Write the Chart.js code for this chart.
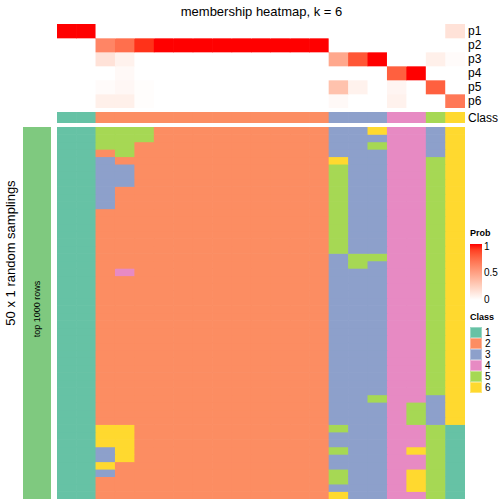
<!DOCTYPE html>
<html>
<head>
<meta charset="utf-8">
<script src="https://cdn.jsdelivr.net/npm/chart.js@4"></script>
<style>
  body { margin: 0; background: #fff; font-family: "Liberation Sans", Arial, sans-serif; }
  #wrap { position: relative; width: 504px; height: 504px; overflow: hidden; }
  canvas { position: absolute; }
  .txt { position: absolute; white-space: nowrap; color: #000; }
  .rot { transform: translate(-50%, -50%) rotate(-90deg); }
</style>
</head>
<body>
<div id="wrap">
  <div class="txt" style="left:0;width:504px;top:4px;font-size:13px;text-align:center;padding-left:19px;box-sizing:border-box;">membership heatmap, k = 6</div>
  <canvas id="probChart" width="408" height="84" style="left:57px;top:24px;"></canvas>
  <canvas id="classChart" width="408" height="11" style="left:57px;top:112px;"></canvas>
  <canvas id="mainChart" width="408" height="372" style="left:57px;top:127px;"></canvas>
  <div style="position:absolute;left:23px;top:127px;width:28px;height:372px;background:#7FC97F;"></div>
  <div class="txt rot" style="left:10px;top:253px;font-size:13px;">50 x 1 random samplings</div>
  <div class="txt rot" style="left:37px;top:309px;font-size:9px;">top 1000 rows</div>
  <div id="labels"></div>
  <div id="legend"></div>
</div>
<script>
// membership probabilities per column (21 columns)
const columnClass = [1,1,2,2,2,2,2,2,2,2,2,2,2,2,3,3,3,4,4,5,6];
const probLabels = ["p1", "p2", "p3", "p4", "p5", "p6"];
const p1 = [1,1,0,0,0,0,0,0,0,0,0,0,0,0,0,0,0,0,0,0,0.15];
const p2 = [0,0,0.62,0.72,0.93,1,1,1,1,1,1,1,1,1,0,0,0,0,0,0,0];
const p3 = [0,0,0.15,0.07,0,0,0,0,0,0,0,0,0,0,0.45,0.82,1,0,0,0.08,0.02];
const p4 = [0,0,0,0.03,0,0,0,0,0,0,0,0,0,0,0,0,0,0.78,1,0,0];
const p5 = [0,0,0.02,0.04,0.01,0,0,0,0,0,0,0,0,0,0.32,0.07,0,0.05,0,0.78,0];
const p6 = [0,0,0.08,0.08,0.01,0,0,0,0,0,0,0,0,0,0.03,0,0,0.07,0,0,0.68];

// class of each column in each of the 50 random samplings
const samplingRows = [
  "115552222222223364436",
  "115552222222223334436",
  "115522222222223354436",
  "112522222222223334436",
  "113222222222226334456",
  "113322222222225334456",
  "113322222222225334456",
  "113322222222225334456",
  "113222222222225334456",
  "113222222222225334456",
  "113222222222225334456",
  "112222222222225334456",
  "112222222222225334456",
  "112222222222225334456",
  "112222222222225334456",
  "112222222222225334456",
  "112222222222225334456",
  "112222222222223554456",
  "112222222222223534456",
  "112422222222223334456",
  "112222222222223334456",
  "112222222222223334456",
  "112222222222223334456",
  "112222222222223334456",
  "112222222222223334456",
  "112222222222223334456",
  "112222222222223334456",
  "112222222222223334456",
  "112222222222223334456",
  "112222222222223334456",
  "112222222222223334456",
  "112222222222223334456",
  "112222222222223334456",
  "112222222222223334456",
  "112222222222223334456",
  "112222222222223334456",
  "112222222222223354436",
  "112222222222223334536",
  "112222222222223334536",
  "112222222222223334536",
  "116622222222225334451",
  "116622222222223334451",
  "116622222222223334451",
  "113622222222225334651",
  "113622222222223334451",
  "116222222222223334451",
  "113222222222225334651",
  "112222222222225334651",
  "112222222222223334651",
  "112222222222226334451"
];

const classNames = ["1", "2", "3", "4", "5", "6"];
const classColors = { 1: "#66C2A5", 2: "#FC8D62", 3: "#8DA0CB", 4: "#E78AC3", 5: "#A6D854", 6: "#FFD92F" };

// white -> red ramp interpolated in LAB space
function toLin(c) { c /= 255; return c <= 0.04045 ? c / 12.92 : Math.pow((c + 0.055) / 1.055, 2.4); }
function fromLin(c) { const v = c <= 0.0031308 ? 12.92 * c : 1.055 * Math.pow(c, 1 / 2.4) - 0.055; return Math.max(0, Math.min(255, Math.round(v * 255))); }
function rgb2lab(r, g, b) {
  r = toLin(r); g = toLin(g); b = toLin(b);
  let x = (r * 0.4124 + g * 0.3576 + b * 0.1805) / 0.95047;
  let y = (r * 0.2126 + g * 0.7152 + b * 0.0722);
  let z = (r * 0.0193 + g * 0.1192 + b * 0.9505) / 1.08883;
  const f = t => t > 0.008856 ? Math.cbrt(t) : 7.787 * t + 16 / 116;
  x = f(x); y = f(y); z = f(z);
  return [116 * y - 16, 500 * (x - y), 200 * (y - z)];
}
function lab2rgb(L, a, b) {
  let y = (L + 16) / 116, x = a / 500 + y, z = y - b / 200;
  const fi = t => t * t * t > 0.008856 ? t * t * t : (t - 16 / 116) / 7.787;
  x = fi(x) * 0.95047; y = fi(y); z = fi(z) * 1.08883;
  const r = x * 3.2406 + y * -1.5372 + z * -0.4986;
  const g = x * -0.9689 + y * 1.8758 + z * 0.0415;
  const bb = x * 0.0557 + y * -0.2040 + z * 1.0570;
  return "rgb(" + fromLin(r) + "," + fromLin(g) + "," + fromLin(bb) + ")";
}
const labW = rgb2lab(255, 255, 255), labR = rgb2lab(255, 0, 0);
function probColor(t) {
  return lab2rgb(labW[0] + (labR[0] - labW[0]) * t, labW[1] + (labR[1] - labW[1]) * t, labW[2] + (labR[2] - labW[2]) * t);
}

const cols = columnClass.map((c, i) => String(i));

function heatChart(id, colorRows) {
  const n = colorRows.length;
  const datasets = colorRows.map((colors, i) => ({
    data: colors.map(() => [i, i + 1]),
    backgroundColor: colors,
    borderWidth: 0,
    grouped: false,
    barPercentage: 1,
    categoryPercentage: 1
  }));
  return new Chart(document.getElementById(id), {
    type: "bar",
    data: { labels: cols, datasets: datasets },
    options: {
      responsive: false,
      animation: false,
      layout: { padding: 0 },
      plugins: { legend: { display: false }, tooltip: { enabled: false } },
      scales: {
        x: { display: false },
        y: { display: false, min: 0, max: n, reverse: true }
      }
    }
  });
}

const probRows = [p1, p2, p3, p4, p5, p6];
heatChart("probChart", probRows.map(r => r.map(probColor)));
heatChart("classChart", [columnClass.map(c => classColors[c])]);
heatChart("mainChart", samplingRows.map(r => r.split("").map(c => classColors[c])));

// row labels on the right
const labels = document.getElementById("labels");
probLabels.concat(["Class"]).forEach((t, i) => {
  const d = document.createElement("div");
  d.className = "txt";
  d.style.fontSize = "12px";
  d.style.left = "468px";
  d.style.top = (i < 6 ? 24 + i * 14 + 7 : 117.5) - 7 + "px";
  d.style.lineHeight = "14px";
  d.innerText = t;
  labels.appendChild(d);
});

// legends
const legend = document.getElementById("legend");
let stops = [];
for (let k = 0; k <= 10; k++) stops.push(probColor(1 - k / 10) + " " + (k * 10) + "%");
legend.innerHTML =
  '<div class="txt" style="left:470px;top:228px;font-size:9px;font-weight:bold;">Prob</div>' +
  '<div style="position:absolute;left:470px;top:244px;width:12px;height:56px;background:linear-gradient(' + stops.join(",") + ');"></div>' +
  '<div class="txt" style="left:484px;top:241px;font-size:10px;">1</div>' +
  '<div class="txt" style="left:484px;top:267px;font-size:10px;">0.5</div>' +
  '<div class="txt" style="left:484px;top:294px;font-size:10px;">0</div>' +
  '<div class="txt" style="left:470px;top:312px;font-size:9px;font-weight:bold;">Class</div>';
classNames.forEach((c, i) => {
  legend.innerHTML +=
    '<div style="position:absolute;left:470px;top:' + (327 + i * 11) + 'px;width:12px;height:11px;background:' + classColors[c] + ';box-shadow:inset 0 0 0 1px rgba(255,255,255,0.35);"></div>' +
    '<div class="txt" style="left:485px;top:' + (327 + i * 11) + 'px;font-size:10px;line-height:11px;">' + c + '</div>';
});
</script>
</body>
</html>
